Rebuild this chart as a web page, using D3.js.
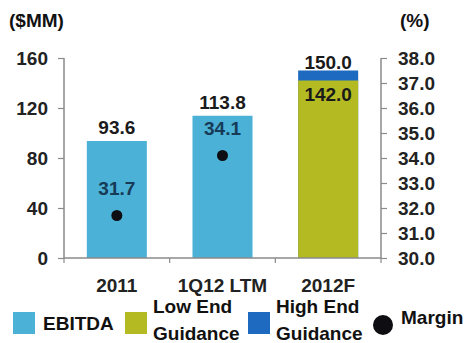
<!DOCTYPE html>
<html><head><meta charset="utf-8">
<script src="https://cdn.jsdelivr.net/npm/d3@7"></script>
<style>
html,body{margin:0;padding:0;background:#fff;}
text{font-family:"Liberation Sans",Arial,sans-serif;font-weight:bold;}
</style></head>
<body><svg id="c" width="466" height="343"></svg>
<script>
const categories = ["2011", "1Q12 LTM", "2012F"];
const ebitda = [93.6, 113.8, null];
const lowEnd = [null, null, 142.0];
const highEnd = [null, null, 150.0];
const margin = [31.7, 34.1, null];
const leftTicks = [0, 40, 80, 120, 160];
const rightTicks = [30, 31, 32, 33, 34, 35, 36, 37, 38];
const legendItems = [
  {label: ["EBITDA"], type: "rect", color: "#4bb1d6"},
  {label: ["Low End", "Guidance"], type: "rect", color: "#b4bb22"},
  {label: ["High End", "Guidance"], type: "rect", color: "#1d6ac0"},
  {label: ["Margin"], type: "dot", color: "#0d0d12"}
];

const FS = "19px";
const svg = d3.select("#c");
const L = 64, R = 381, T = 58, B = 258;
const x = d3.scaleBand().domain(categories).range([L, R]).paddingInner(0.432).paddingOuter(0.216);
const yL = d3.scaleLinear().domain([0, 160]).range([B, T]);
const yR = d3.scaleLinear().domain([30, 38]).range([B, T]);
const axisColor = "#8a8a8a";
const step = x.step();

// bars
categories.forEach((c, i) => {
  if (ebitda[i] != null) {
    svg.append("rect").attr("x", x(c)).attr("width", x.bandwidth())
      .attr("y", yL(ebitda[i])).attr("height", yL(0) - yL(ebitda[i])).attr("fill", legendItems[0].color);
  }
  if (highEnd[i] != null) {
    svg.append("rect").attr("x", x(c)).attr("width", x.bandwidth())
      .attr("y", yL(highEnd[i])).attr("height", yL(0) - yL(highEnd[i])).attr("fill", legendItems[2].color);
  }
  if (lowEnd[i] != null) {
    svg.append("rect").attr("x", x(c)).attr("width", x.bandwidth())
      .attr("y", yL(lowEnd[i])).attr("height", yL(0) - yL(lowEnd[i])).attr("fill", legendItems[1].color);
  }
});

// axes
const gl = svg.append("g").attr("transform", `translate(${L},0)`)
  .call(d3.axisLeft(yL).tickValues(leftTicks).tickSize(6).tickPadding(10).tickFormat(d3.format("d")));
const gr = svg.append("g").attr("transform", `translate(${R},0)`)
  .call(d3.axisRight(yR).tickValues(rightTicks).tickSize(6).tickPadding(11).tickFormat(d3.format(".1f")));
[gl, gr].forEach(g => {
  g.select(".domain").attr("stroke", axisColor).attr("stroke-width", 1.5).attr("d", `M0,${T}V${B}`);
  g.selectAll(".tick line").attr("stroke", axisColor).attr("stroke-width", 1.2);
  g.selectAll(".tick text").attr("fill", "#222").style("font-size", FS)
    .style("font-family", "'Liberation Sans',Arial,sans-serif").style("font-weight", "bold");
});
// x axis
svg.append("line").attr("x1", L).attr("x2", R).attr("y1", B).attr("y2", B)
  .attr("stroke", axisColor).attr("stroke-width", 1.5);
d3.range(categories.length + 1).forEach(i => {
  svg.append("line").attr("x1", L + i * step).attr("x2", L + i * step).attr("y1", B).attr("y2", B + 5)
    .attr("stroke", axisColor).attr("stroke-width", 1.2);
});
categories.forEach(c => {
  svg.append("text").attr("x", x(c) + x.bandwidth() / 2).attr("y", 292).attr("text-anchor", "middle")
    .attr("fill", "#222").style("font-size", FS).text(c);
});

// total labels
categories.forEach((c, i) => {
  const cx = x(c) + x.bandwidth() / 2;
  if (ebitda[i] != null) {
    svg.append("text").attr("x", cx).attr("y", yL(ebitda[i]) - 7).attr("text-anchor", "middle")
      .attr("fill", "#1a1a1a").style("font-size", FS).text(ebitda[i].toFixed(1));
  }
  if (highEnd[i] != null) {
    svg.append("text").attr("x", cx).attr("y", yL(highEnd[i]) - 2).attr("text-anchor", "middle")
      .attr("fill", "#1a1a1a").style("font-size", FS).text(highEnd[i].toFixed(1));
  }
  if (lowEnd[i] != null) {
    svg.append("text").attr("x", cx).attr("y", yL(lowEnd[i]) + 20).attr("text-anchor", "middle")
      .attr("fill", "#1a1a1a").style("font-size", FS).text(lowEnd[i].toFixed(1));
  }
  if (margin[i] != null) {
    svg.append("circle").attr("cx", cx).attr("cy", yR(margin[i])).attr("r", 5.5).attr("fill", "#0d0d12");
    svg.append("text").attr("x", cx).attr("y", yR(margin[i]) - 21).attr("text-anchor", "middle")
      .attr("fill", "#173a56").style("font-size", FS).text(margin[i].toFixed(1));
  }
});

// unit titles
svg.append("text").attr("x", 9).attr("y", 27).attr("fill", "#111").style("font-size", FS).text("($MM)");
svg.append("text").attr("x", 400).attr("y", 27).attr("fill", "#111").style("font-size", FS).text("(%)");

// legend
const legX = [13, 125, 248, 383];
legendItems.forEach((d, i) => {
  const g = svg.append("g").attr("transform", `translate(${legX[i]},0)`);
  if (d.type === "rect") {
    g.append("rect").attr("x", 0).attr("y", 312).attr("width", 22).attr("height", 22).attr("fill", d.color);
  } else {
    g.append("circle").attr("cx", 0).attr("cy", 325).attr("r", 10).attr("fill", d.color);
  }
  const tx = d.type === "rect" ? 30 : 18;
  if (d.label.length === 1) {
    g.append("text").attr("x", tx).attr("y", d.type === "rect" ? 330 : 324).attr("fill", "#111")
      .style("font-size", FS).text(d.label[0]);
  } else {
    g.append("text").attr("x", tx - 2).attr("y", 313).attr("fill", "#111").style("font-size", FS).text(d.label[0]);
    g.append("text").attr("x", tx - 2).attr("y", 340).attr("fill", "#111").style("font-size", FS).text(d.label[1]);
  }
});
</script></body></html>
